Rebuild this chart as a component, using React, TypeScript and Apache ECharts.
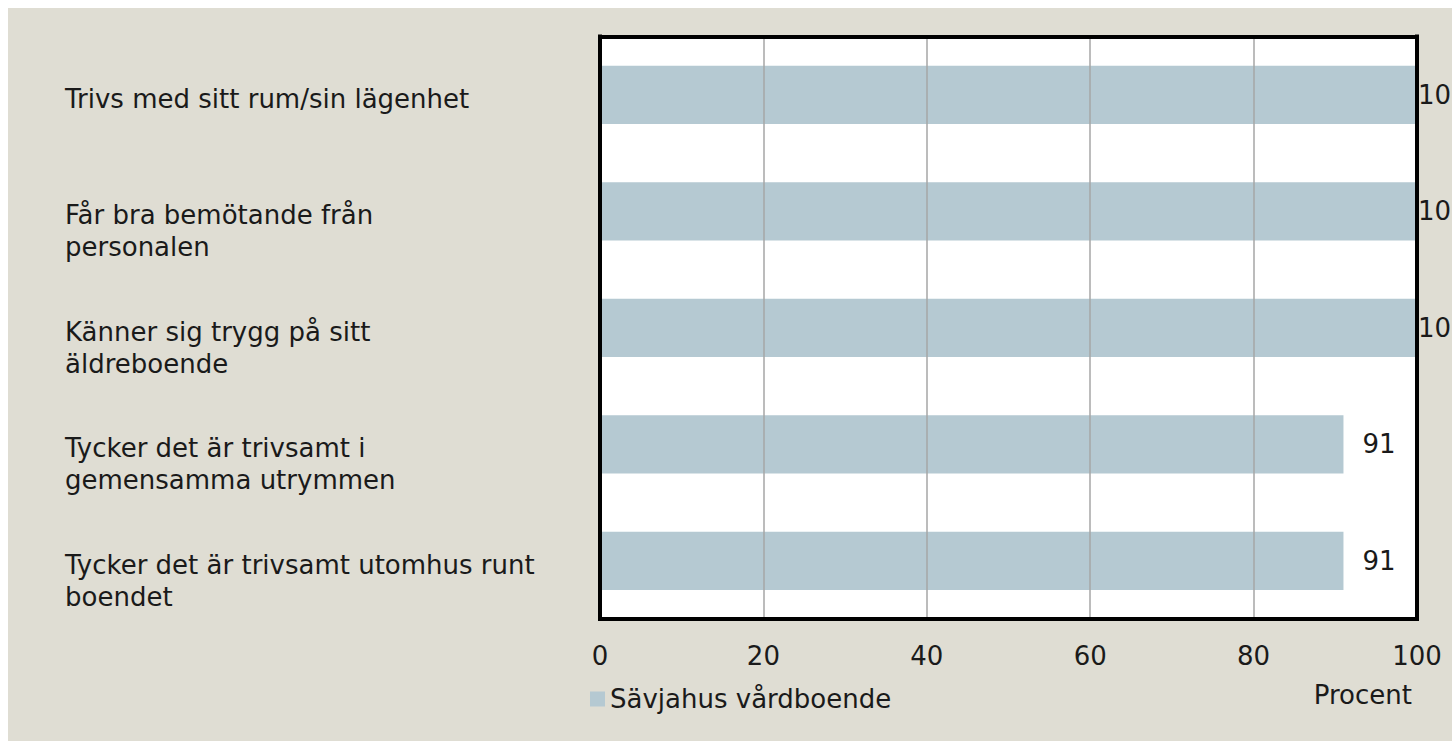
import React, { useEffect, useRef } from "react";
import * as echarts from "echarts";

const categories: string[] = [
  "Trivs med sitt rum/sin lägenhet",
  "Får bra bemötande från\npersonalen",
  "Känner sig trygg på sitt\näldreboende",
  "Tycker det är trivsamt i\ngemensamma utrymmen",
  "Tycker det är trivsamt utomhus runt\nboendet",
];
const seriesName = "Sävjahus vårdboende";
const values: number[] = [100, 100, 100, 91, 91];
const xTicks = { min: 0, max: 100, interval: 20 };
const axisTitle = "Procent";

const FONT = "'DejaVu Sans', sans-serif";
const TEXT = "#1a1a1a";
const FRAME = { show: true, onZero: false, lineStyle: { color: "#000", width: 4, cap: "square" } };

export default function App() {
  const ref = useRef<HTMLDivElement>(null);
  useEffect(() => {
    document.documentElement.style.overflow = "hidden";
    const chart = echarts.init(ref.current!, null, { renderer: "svg" });
    chart.setOption({
      animation: false,
      backgroundColor: "#dfddd3",
      textStyle: { fontFamily: FONT },
      grid: {
        left: 592,
        top: 28.5,
        right: 51,
        bottom: 122,
        show: true,
        borderWidth: 0,
        backgroundColor: "#ffffff",
        containLabel: false,
      },
      legend: {
        left: 577,
        top: 673,
        icon: "rect",
        itemWidth: 15,
        itemHeight: 15,
        itemGap: 10,
        textStyle: { fontFamily: FONT, fontSize: 26, color: TEXT },
        data: [seriesName],
      },
      xAxis: [
        {
          type: "value",
          position: "bottom",
          z: 10,
          min: xTicks.min,
          max: xTicks.max,
          interval: xTicks.interval,
          axisLine: FRAME,
          axisTick: { show: false },
          splitLine: { show: true, lineStyle: { color: "#a6a6a6", width: 1.5 } },
          axisLabel: { fontFamily: FONT, fontSize: 26, color: TEXT, margin: 24 },
        },
        {
          type: "value",
          position: "top",
          z: 10,
          min: xTicks.min,
          max: xTicks.max,
          interval: xTicks.interval,
          axisLine: FRAME,
          axisTick: { show: false },
          splitLine: { show: false },
          axisLabel: { show: false },
        },
      ],
      yAxis: [
        {
          type: "category",
          position: "left",
          z: 10,
          inverse: true,
          data: categories,
          axisLine: FRAME,
          axisTick: { show: false },
          splitLine: { show: false },
          axisLabel: {
            fontFamily: FONT,
            fontSize: 26,
            color: TEXT,
            align: "left",
            verticalAlign: "top",
            lineHeight: 32,
            padding: [-12, 0, 0, 0],
            margin: 535,
          },
        },
        {
          type: "category",
          position: "right",
          z: 10,
          inverse: true,
          data: categories,
          axisLine: FRAME,
          axisTick: { show: false },
          splitLine: { show: false },
          axisLabel: { show: false },
        },
      ],
      graphic: [
        {
          type: "text",
          x: 1404,
          y: 687,
          style: {
            text: axisTitle,
            fontFamily: FONT,
            fontSize: 26,
            fill: TEXT,
            align: "right",
            verticalAlign: "middle",
          },
        },
      ],
      series: [
        {
          name: seriesName,
          type: "bar",
          xAxisIndex: 0,
          yAxisIndex: 0,
          barWidth: "50%",
          itemStyle: { color: "#b5c9d2" },
          data: values.map((v) => ({
            value: v,
            label: { distance: v >= 100 ? 1 : 19 },
          })),
          label: {
            show: true,
            position: "right",
            fontFamily: FONT,
            fontSize: 26,
            color: TEXT,
          },
        },
      ],
    });
    return () => chart.dispose();
  }, []);
  return (
    <div
      ref={ref}
      style={{ position: "fixed", left: 8, top: 8, width: 1460, height: 733 }}
    />
  );
}
